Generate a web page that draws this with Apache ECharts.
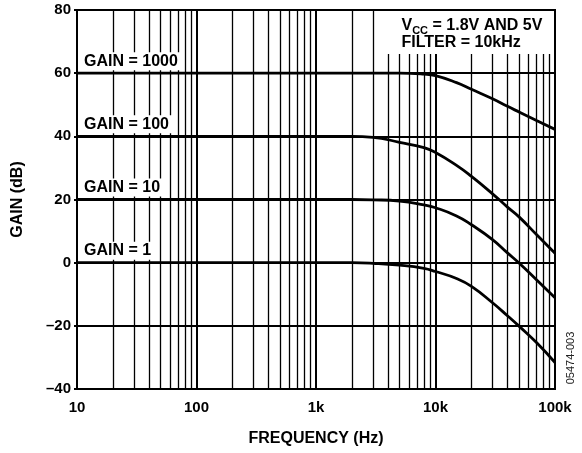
<!DOCTYPE html>
<html>
<head>
<meta charset="utf-8">
<script src="https://cdn.jsdelivr.net/npm/echarts@6/dist/echarts.min.js"></script>
<style>
  html, body { margin: 0; padding: 0; background: #fff; }
  #chart { width: 582px; height: 453px; }
</style>
</head>
<body>
<div id="chart"></div>
<script>
// Frequency response of the amplifier at four gain settings (10 kHz filter)
const freqHz = [10, 100, 1000, 2000, 3000, 5000, 8000, 10000, 15000, 20000, 30000, 40000, 50000, 70000, 100000];
const gain1000 = [60, 60, 60, 60, 60, 60, 59.7, 59.2, 57.0, 54.9, 51.9, 49.5, 47.7, 45.0, 42.2];
const gain100 = [40, 40, 40, 40, 39.7, 38.1, 36.4, 34.9, 30.8, 27.3, 21.8, 17.6, 14.5, 8.9, 3.0];
const gain10 = [20, 20, 20, 20, 19.9, 19.5, 18.3, 17.4, 14.8, 12.0, 7.3, 3.1, -0.1, -5.4, -11.1];
const gain1 = [0, 0, 0, 0, -0.2, -0.8, -1.8, -2.8, -5.0, -7.5, -12.7, -16.8, -20.1, -25.3, -31.6];

const gainNames = ['GAIN = 1000', 'GAIN = 100', 'GAIN = 10', 'GAIN = 1'];
const xTickLabels = ['10', '100', '1k', '10k', '100k'];
const yTicks = { min: -40, max: 80, step: 20 };

// minor log grid: 2..9 within every decade
const minorGrid = [];
for (let dec = 10; dec < 100000; dec *= 10) {
  for (let m = 2; m <= 9; m++) minorGrid.push(m * dec);
}

const FONT = '"Liberation Sans", Arial, Helvetica, sans-serif';

function gainSeries(name, values) {
  return {
    name: name,
    type: 'line',
    z: 3,
    data: freqHz.map((f, i) => [f, values[i]]),
    showSymbol: false,
    smooth: 0.5,
    lineStyle: { color: '#000', width: 2.8 },
    markPoint: {
      z: 2,
      silent: true,
      symbol: 'circle',
      symbolSize: 0,
      data: [{ coord: [freqHz[0], values[0]] }],
      label: {
        show: true,
        formatter: name,
        position: [2, -12],
        align: 'left',
        verticalAlign: 'middle',
        color: '#000',
        fontFamily: FONT,
        fontWeight: 'bold',
        fontSize: 16,
        backgroundColor: '#fff',
        padding: [1, 4, 1, 5]
      }
    }
  };
}

const chart = echarts.init(document.getElementById('chart'), null, { renderer: 'canvas' });

chart.setOption({
  animation: false,
  backgroundColor: '#fff',
  grid: {
    left: 77, right: 27, top: 10, bottom: 64,
    containLabel: false,
    outerBoundsMode: 'none',
    show: true,
    borderColor: '#000',
    borderWidth: 2
  },
  xAxis: {
    type: 'log',
    logBase: 10,
    min: 10,
    max: 100000,
    name: 'FREQUENCY (Hz)',
    nameLocation: 'middle',
    nameGap: 42,
    nameTextStyle: { fontFamily: FONT, fontWeight: 'bold', fontSize: 16, color: '#000' },
    axisLine: { show: true, lineStyle: { color: '#000', width: 2 } },
    axisTick: { show: false },
    axisLabel: {
      margin: 11,
      fontFamily: FONT, fontWeight: 'bold', fontSize: 15, color: '#000',
      formatter: v => xTickLabels[Math.round(Math.log10(v)) - 1]
    },
    splitLine: { show: true, lineStyle: { color: '#000', width: 2 } }
  },
  yAxis: {
    type: 'value',
    min: yTicks.min,
    max: yTicks.max,
    interval: yTicks.step,
    name: 'GAIN (dB)',
    nameLocation: 'middle',
    nameGap: 51,
    nameTextStyle: { fontFamily: FONT, fontWeight: 'bold', fontSize: 16, color: '#000' },
    axisLine: { show: true, lineStyle: { color: '#000', width: 2 } },
    axisTick: { show: true, length: 3, lineStyle: { color: '#000', width: 2 } },
    axisLabel: {
      margin: 6,
      fontFamily: FONT, fontWeight: 'bold', fontSize: 15, color: '#000',
      formatter: v => String(v).replace('-', '\u2013')
    },
    splitLine: { show: true, lineStyle: { color: '#000', width: 2 } }
  },
  series: [
    {
      name: 'minor grid',
      type: 'line',
      data: [],
      z: 1,
      silent: true,
      markLine: {
        z: 1,
        silent: true,
        symbol: 'none',
        animation: false,
        label: { show: false },
        lineStyle: { color: '#000', width: 1.3, type: 'solid' },
        data: minorGrid.map(v => ({ xAxis: v }))
      }
    },
    gainSeries(gainNames[0], gain1000),
    gainSeries(gainNames[1], gain100),
    gainSeries(gainNames[2], gain10),
    gainSeries(gainNames[3], gain1)
  ],
  graphic: [
    {
      type: 'rect',
      z: 10,
      silent: true,
      shape: { x: 387, y: 11, width: 166, height: 43 },
      style: { fill: '#fff' }
    },
    {
      type: 'text',
      z: 11,
      silent: true,
      x: 401.5,
      y: 17.5,
      style: {
        text: 'V{sub|CC} = 1.8V AND 5V\nFILTER = 10kHz',
        fill: '#000',
        fontFamily: FONT,
        fontWeight: 'bold',
        fontSize: 16,
        lineHeight: 17,
        rich: {
          sub: {
            fontFamily: FONT,
            fontWeight: 'bold',
            fontSize: 11,
            lineHeight: 17,
            verticalAlign: 'top',
            padding: [8, 0, 0, 0],
            fill: '#000'
          }
        }
      }
    },
    {
      type: 'text',
      z: 11,
      silent: true,
      x: 571,
      y: 358,
      rotation: Math.PI / 2,
      style: {
        text: '05474-003',
        fill: '#222',
        fontFamily: FONT,
        fontSize: 11,
        align: 'center',
        verticalAlign: 'middle'
      }
    }
  ]
});
</script>
</body>
</html>
